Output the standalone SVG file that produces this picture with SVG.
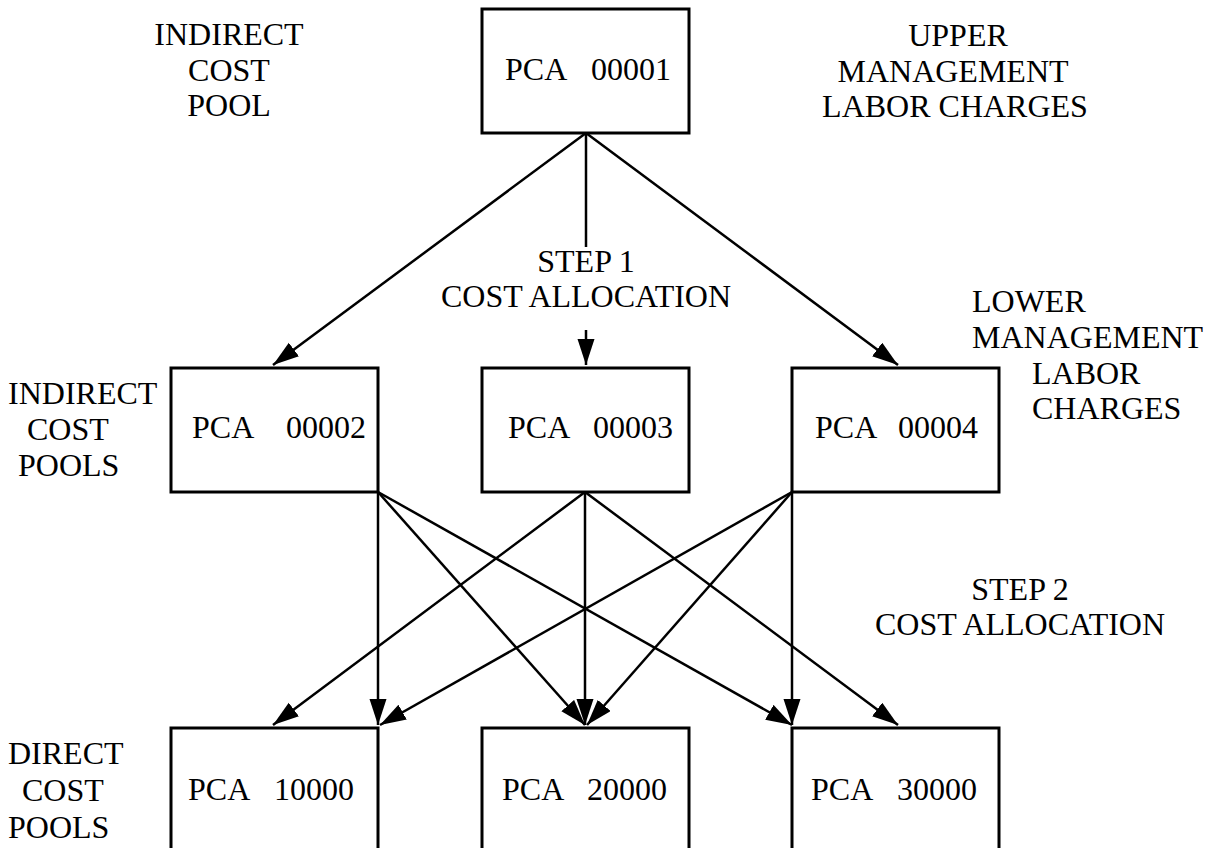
<svg xmlns="http://www.w3.org/2000/svg" width="1212" height="848" viewBox="0 0 1212 848">
  <style>
    .box { fill: #ffffff; stroke: #000000; stroke-width: 3; }
    .lbl { font-family: "Liberation Serif", "Times New Roman", serif; font-size: 32px; fill: #000000; }
    .mid { text-anchor: middle; }
    .edge { stroke: #000000; stroke-width: 2.5; fill: none; }
    .arr { marker-end: url(#head); }
  </style>
  <defs>
    <marker id="head" markerUnits="userSpaceOnUse" markerWidth="28" markerHeight="18" refX="26" refY="8.5" orient="auto">
      <path d="M0,0 L26,8.5 L0,17 Z" fill="#000000"/>
    </marker>
  </defs>

  <rect width="1212" height="848" fill="#ffffff"/>

  <!-- connectors -->
  <g id="connectors">
    <!-- step 1: top pool to indirect pools -->
    <line class="edge arr" x1="586" y1="133" x2="273" y2="365"/>
    <line class="edge arr" x1="586" y1="133" x2="898" y2="365"/>
    <line class="edge" x1="586" y1="133" x2="586" y2="247"/>
    <line class="edge arr" x1="586" y1="330" x2="586" y2="365"/>
    <!-- step 2: indirect pools to direct pools -->
    <line class="edge arr" x1="378" y1="492" x2="378" y2="725"/>
    <line class="edge arr" x1="378" y1="492" x2="585" y2="725"/>
    <line class="edge arr" x1="378" y1="492" x2="792" y2="725"/>
    <line class="edge arr" x1="585" y1="492" x2="273" y2="725"/>
    <line class="edge arr" x1="585" y1="492" x2="585" y2="725"/>
    <line class="edge arr" x1="585" y1="492" x2="898" y2="725"/>
    <line class="edge arr" x1="792" y1="492" x2="380" y2="725"/>
    <line class="edge arr" x1="792" y1="492" x2="587" y2="725"/>
    <line class="edge arr" x1="792" y1="492" x2="792" y2="725"/>
  </g>

  <!-- nodes -->
  <g id="pca00001">
    <rect class="box" x="482" y="9" width="207" height="124"/>
    <text class="lbl" x="505" y="80">PCA</text>
    <text class="lbl" x="591" y="80">00001</text>
  </g>
  <g id="pca00002">
    <rect class="box" x="171" y="368" width="207" height="124"/>
    <text class="lbl" x="192" y="438">PCA</text>
    <text class="lbl" x="286" y="438">00002</text>
  </g>
  <g id="pca00003">
    <rect class="box" x="482" y="368" width="207" height="124"/>
    <text class="lbl" x="508" y="438">PCA</text>
    <text class="lbl" x="593" y="438">00003</text>
  </g>
  <g id="pca00004">
    <rect class="box" x="792" y="368" width="207" height="124"/>
    <text class="lbl" x="815" y="438">PCA</text>
    <text class="lbl" x="898" y="438">00004</text>
  </g>
  <g id="pca10000">
    <rect class="box" x="171" y="728" width="207" height="130"/>
    <text class="lbl" x="188" y="800">PCA</text>
    <text class="lbl" x="274" y="800">10000</text>
  </g>
  <g id="pca20000">
    <rect class="box" x="482" y="728" width="207" height="130"/>
    <text class="lbl" x="502" y="800">PCA</text>
    <text class="lbl" x="587" y="800">20000</text>
  </g>
  <g id="pca30000">
    <rect class="box" x="792" y="728" width="207" height="130"/>
    <text class="lbl" x="811" y="800">PCA</text>
    <text class="lbl" x="897" y="800">30000</text>
  </g>

  <!-- annotations -->
  <g id="labels">
    <text class="lbl mid" x="229" y="45">INDIRECT</text>
    <text class="lbl mid" x="229" y="81">COST</text>
    <text class="lbl mid" x="229" y="116">POOL</text>

    <text class="lbl mid" x="958" y="46">UPPER</text>
    <text class="lbl mid" x="953" y="82">MANAGEMENT</text>
    <text class="lbl mid" x="955" y="117">LABOR CHARGES</text>

    <text class="lbl mid" x="586" y="272">STEP 1</text>
    <text class="lbl mid" x="586" y="307">COST ALLOCATION</text>

    <text class="lbl" x="972" y="312">LOWER</text>
    <text class="lbl" x="972" y="348">MANAGEMENT</text>
    <text class="lbl" x="1032" y="384">LABOR</text>
    <text class="lbl" x="1032" y="419">CHARGES</text>

    <text class="lbl" x="8" y="404">INDIRECT</text>
    <text class="lbl" x="27" y="440">COST</text>
    <text class="lbl" x="18" y="476">POOLS</text>

    <text class="lbl mid" x="1020" y="600">STEP 2</text>
    <text class="lbl mid" x="1020" y="635">COST ALLOCATION</text>

    <text class="lbl" x="8" y="764">DIRECT</text>
    <text class="lbl" x="22" y="801">COST</text>
    <text class="lbl" x="8" y="838">POOLS</text>
  </g>
</svg>
